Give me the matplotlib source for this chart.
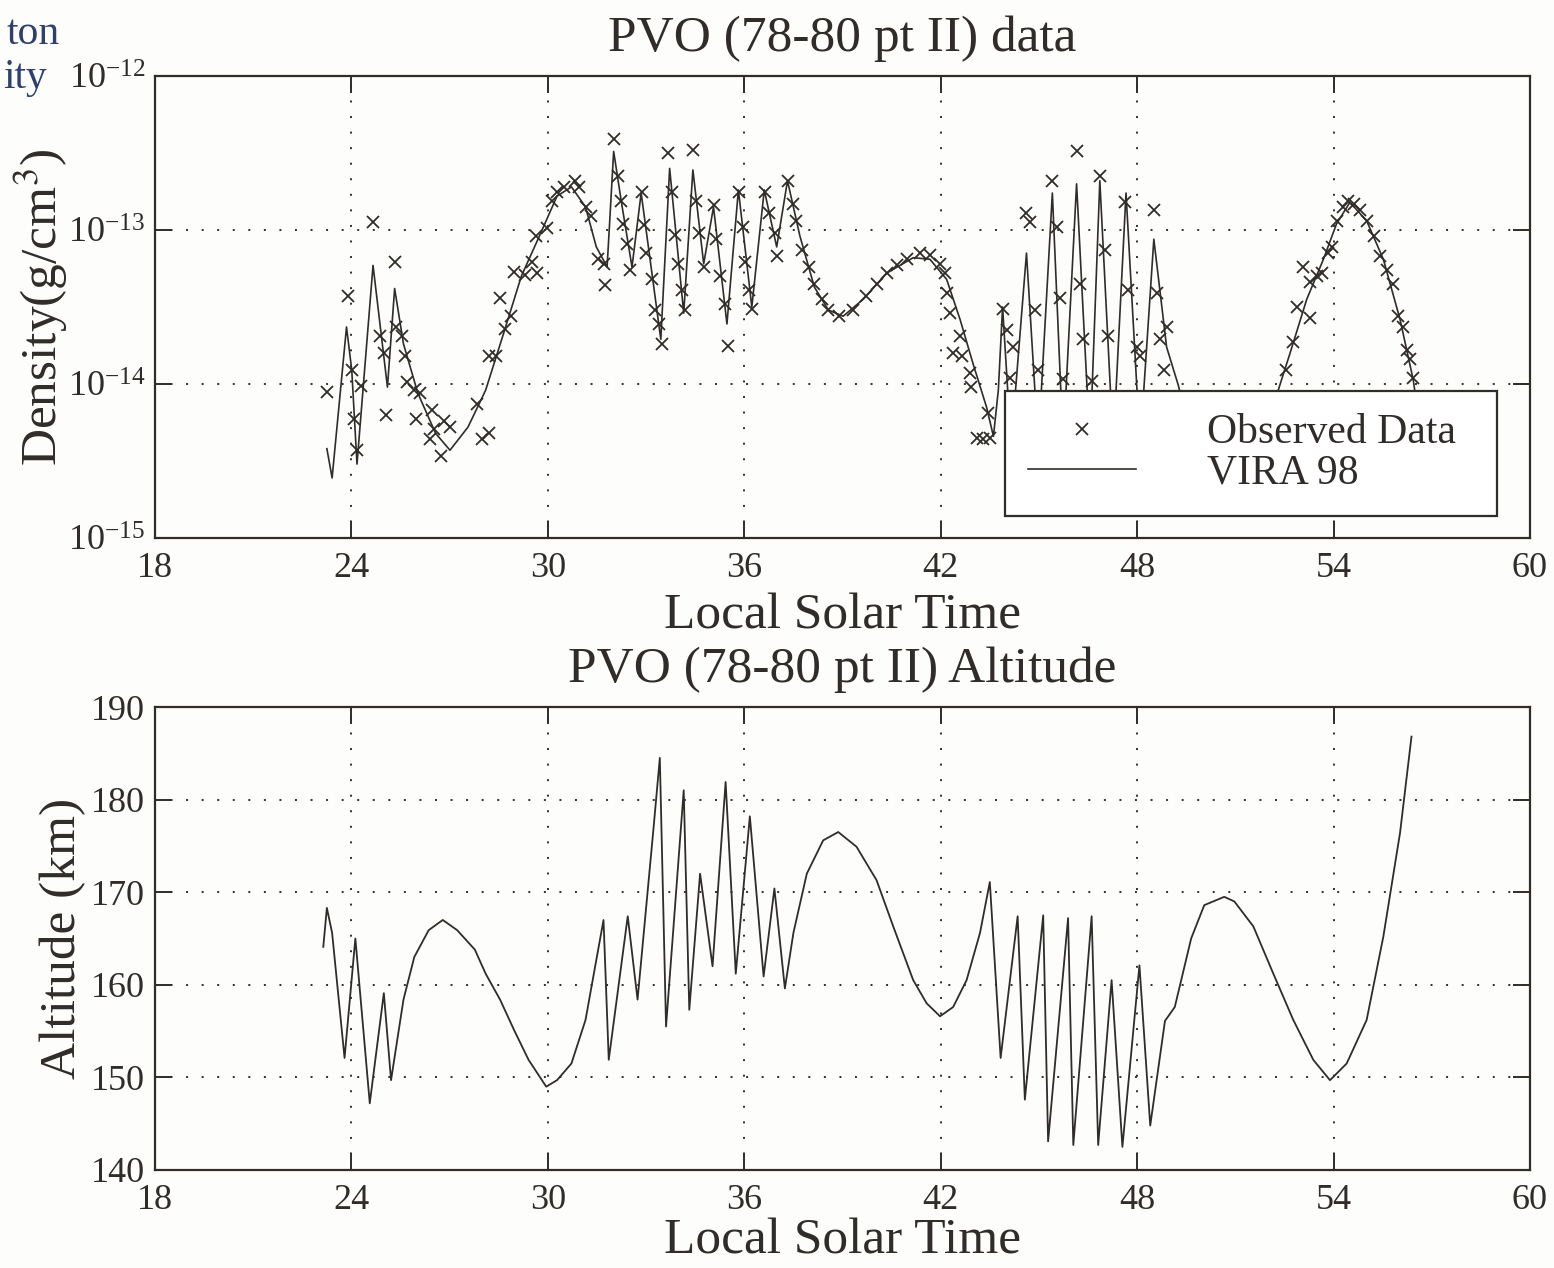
import numpy as np
import matplotlib
matplotlib.use("Agg")
from matplotlib import pyplot as plt
from matplotlib.ticker import FixedLocator, LogFormatterMathtext, NullLocator

# VIRA 98 model density along the orbit track (log10 of g/cm^3)
vira_lst = [23.25, 23.41, 23.85, 24.01, 24.17, 24.66, 25.10, 25.32, 25.59, 26.03,
            26.57, 27.01, 27.56, 28.10, 28.65, 29.19, 29.74, 30.28, 30.72, 31.15,
            31.48, 31.81, 32.01, 32.24, 32.57, 32.85, 33.45, 33.72, 34.15, 34.43,
            34.76, 35.06, 35.47, 35.82, 36.23, 36.61, 36.99, 37.32, 37.70, 38.14,
            38.57, 39.02, 39.63, 40.35, 41.16, 41.67, 42.18, 42.59, 42.99, 43.40,
            43.61, 43.76, 43.89, 44.15, 44.62, 44.98, 45.41, 45.74, 46.15, 46.56,
            46.86, 47.27, 47.66, 48.09, 48.51, 48.90, 49.26, 49.80, 51.80, 52.31,
            52.67, 53.18, 53.69, 54.09, 54.50, 55.01, 55.52, 56.03, 56.43, 56.80]
vira_log = [-14.42, -14.61, -13.63, -13.91, -14.52, -13.23, -14.02, -13.38, -13.74, -14.06,
            -14.32, -14.43, -14.28, -14.04, -13.67, -13.30, -13.04, -12.78, -12.72, -12.85,
            -13.11, -13.24, -12.49, -12.81, -13.24, -12.76, -13.71, -12.60, -13.54, -12.61,
            -13.22, -12.85, -13.61, -12.74, -13.50, -12.74, -13.11, -12.68, -13.04, -13.37,
            -13.52, -13.56, -13.45, -13.28, -13.18, -13.19, -13.32, -13.58, -13.87, -14.15,
            -14.34, -14.04, -13.50, -14.40, -13.15, -14.40, -12.76, -14.40, -12.70, -14.40,
            -12.68, -14.40, -12.76, -14.40, -13.06, -13.76, -14.01, -14.50, -14.50, -14.04,
            -13.80, -13.45, -13.19, -12.96, -12.82, -12.94, -13.19, -13.58, -13.97, -14.50]

# observed PVO densities (log10 of g/cm^3)
obs_lst = [23.25, 23.90, 24.01, 24.07, 24.17, 24.28, 24.66, 24.88, 24.99, 25.05,
           25.32, 25.37, 25.54, 25.65, 25.70, 25.92, 26.08, 25.98, 26.47, 26.52,
           26.41, 26.84, 27.01, 26.74, 27.83, 27.99, 28.21, 28.21, 28.43, 28.54,
           28.70, 28.87, 28.97, 29.30, 29.68, 29.52, 29.63, 29.96, 30.12, 30.28,
           30.50, 30.83, 30.94, 31.15, 31.31, 31.53, 31.70, 31.75, 32.01, 32.14,
           32.22, 32.30, 32.41, 32.52, 32.88, 32.95, 33.01, 33.17, 33.28, 33.39,
           33.50, 33.68, 33.79, 33.88, 33.97, 34.10, 34.19, 34.43, 34.52, 34.63,
           34.76, 35.06, 35.14, 35.25, 35.42, 35.50, 35.83, 35.96, 36.01, 36.15,
           36.23, 36.63, 36.77, 36.94, 36.99, 37.35, 37.48, 37.59, 37.75, 37.97,
           38.14, 38.36, 38.57, 38.90, 39.32, 39.73, 40.04, 40.35, 40.65, 40.96,
           41.37, 41.67, 41.98, 42.13, 42.18, 42.28, 42.59, 42.38, 42.64, 42.89,
           42.94, 43.10, 43.30, 43.50, 43.45, 43.89, 44.01, 44.21, 44.11, 44.62,
           44.74, 44.88, 44.98, 45.39, 45.55, 45.63, 45.75, 46.15, 46.25, 46.35,
           46.61, 46.86, 47.02, 47.12, 47.63, 47.73, 47.99, 48.09, 48.50, 48.61,
           48.91, 48.71, 48.81, 52.56, 52.77, 52.87, 53.08, 53.28, 53.28, 53.49,
           53.64, 53.84, 53.95, 54.10, 54.30, 54.45, 54.61, 54.81, 55.01, 55.22,
           55.42, 55.62, 55.83, 55.98, 56.13, 56.23, 56.33, 56.43]
obs_log = [-14.05, -13.43, -13.91, -14.23, -14.43, -14.01, -12.95, -13.69, -13.80, -14.20,
           -13.21, -13.63, -13.69, -13.82, -13.99, -14.04, -14.06, -14.23, -14.17, -14.29,
           -14.36, -14.24, -14.28, -14.47, -14.13, -14.36, -14.32, -13.82, -13.82, -13.44,
           -13.64, -13.56, -13.27, -13.29, -13.28, -13.21, -13.04, -12.99, -12.81, -12.75,
           -12.72, -12.68, -12.72, -12.85, -12.91, -13.19, -13.22, -13.36, -12.41, -12.65,
           -12.81, -12.96, -13.09, -13.26, -12.75, -12.97, -13.15, -13.32, -13.52, -13.61,
           -13.74, -12.50, -12.75, -13.03, -13.22, -13.39, -13.52, -12.48, -12.81, -13.02,
           -13.24, -12.84, -13.06, -13.30, -13.48, -13.75, -12.75, -12.98, -13.21, -13.39,
           -13.51, -12.75, -12.89, -13.02, -13.17, -12.68, -12.83, -12.94, -13.13, -13.24,
           -13.35, -13.45, -13.52, -13.56, -13.52, -13.43, -13.35, -13.28, -13.23, -13.19,
           -13.15, -13.16, -13.22, -13.28, -13.41, -13.54, -13.69, -13.80, -13.82, -13.93,
           -14.02, -14.35, -14.36, -14.35, -14.19, -13.51, -13.65, -13.76, -13.96, -12.89,
           -12.95, -13.52, -13.91, -12.68, -12.98, -13.44, -13.97, -12.49, -13.35, -13.71,
           -13.98, -12.65, -13.13, -13.69, -12.82, -13.39, -13.76, -13.82, -12.87, -13.41,
           -13.63, -13.71, -13.91, -13.91, -13.73, -13.50, -13.24, -13.34, -13.57, -13.30,
           -13.28, -13.15, -13.11, -12.94, -12.85, -12.81, -12.83, -12.87, -12.94, -13.04,
           -13.17, -13.26, -13.35, -13.56, -13.63, -13.78, -13.84, -13.96]

# spacecraft altitude (km)
alt_lst = [23.14, 23.25, 23.41, 23.79, 24.12, 24.56, 24.99, 25.21, 25.59, 25.92,
           26.36, 26.79, 27.23, 27.77, 28.10, 28.54, 28.97, 29.41, 29.95, 30.28,
           30.72, 31.15, 31.70, 31.86, 32.44, 32.74, 33.23, 33.42, 33.61, 34.15,
           34.32, 34.65, 35.03, 35.43, 35.74, 36.17, 36.59, 36.92, 37.24, 37.50,
           37.91, 38.41, 38.87, 39.43, 40.04, 40.55, 41.16, 41.57, 41.98, 42.38,
           42.79, 43.20, 43.50, 43.83, 44.35, 44.57, 45.13, 45.28, 45.89, 46.05,
           46.61, 46.81, 47.22, 47.55, 48.07, 48.40, 48.85, 49.15, 49.65, 50.05,
           50.66, 50.97, 51.55, 52.16, 52.77, 53.38, 53.89, 54.40, 55.01, 55.52,
           56.03, 56.38]
alt_km = [164.1, 168.3, 165.6, 152.1, 165.0, 147.2, 159.1, 149.7, 158.4, 163.0,
          165.9, 167.0, 165.9, 163.8, 161.2, 158.4, 155.1, 151.9, 149.0, 149.7,
          151.5, 156.2, 167.0, 151.9, 167.4, 158.4, 177.0, 184.5, 155.5, 181.0,
          157.3, 172.0, 162.0, 181.9, 161.2, 178.2, 160.9, 170.4, 159.6, 165.6,
          172.0, 175.6, 176.5, 174.9, 171.3, 166.3, 160.5, 158.0, 156.6, 157.6,
          160.5, 165.6, 171.1, 152.1, 167.4, 147.6, 167.5, 143.1, 167.2, 142.7,
          167.4, 142.7, 160.5, 142.5, 162.1, 144.8, 156.1, 157.6, 165.0, 168.6,
          169.5, 169.0, 166.3, 161.2, 156.2, 151.9, 149.7, 151.5, 156.2, 165.2,
          176.4, 186.8]

xticks = [18, 24, 30, 36, 42, 48, 54, 60]

plt.rcParams['font.family'] = ['Liberation Serif', 'DejaVu Serif']
plt.rcParams['mathtext.fontset'] = 'stix'

ink = '#2f2c29'
grid_style = dict(color=ink, linestyle=(0, (1, 7)), linewidth=1.4)

fig = plt.figure(figsize=(15.54, 12.68), dpi=100, facecolor='#fdfdfb')
W, H = 1554.0, 1268.0
ax1 = fig.add_axes([155 / W, 1 - 538 / H, 1375 / W, 462 / H])
ax2 = fig.add_axes([155 / W, 1 - 1170 / H, 1375 / W, 463 / H])

# density panel
ax1.set_yscale('log')
ax1.plot(vira_lst, np.power(10.0, vira_log), color=ink, lw=1.2, label='VIRA 98', zorder=3)
ax1.plot(obs_lst, np.power(10.0, obs_log), linestyle='none', marker='x', ms=8, mew=1.3,
         color=ink, label='Observed Data', zorder=4)
ax1.set_ylim(1e-15, 1e-12)
ax1.yaxis.set_major_locator(FixedLocator([1e-15, 1e-14, 1e-13, 1e-12]))
ax1.yaxis.set_major_formatter(LogFormatterMathtext())
ax1.yaxis.set_minor_locator(NullLocator())
ax1.set_title('PVO (78-80 pt II) data', fontsize=37, color=ink, pad=18)
ax1.set_ylabel('Density(g/cm$^3$)', fontsize=37, color=ink)
ax1.yaxis.set_label_coords(-0.062, 0.5)

handles, labels = ax1.get_legend_handles_labels()
leg = ax1.legend(handles[::-1], labels[::-1], loc='lower left',
                 bbox_to_anchor=(0.618, 0.048, 0.358, 0.27), mode='expand',
                 fontsize=30, handlelength=2.6, handletextpad=1.7, borderpad=0.55,
                 labelspacing=0.05, fancybox=False, framealpha=1, borderaxespad=0)
leg.get_frame().set_edgecolor(ink)
leg.get_frame().set_linewidth(1.6)
leg.set_zorder(10)
for t in leg.get_texts():
    t.set_color(ink)

# altitude panel
ax2.plot(alt_lst, alt_km, color=ink, lw=1.3, zorder=3)
ax2.set_ylim(140, 190)
ax2.set_yticks([140, 150, 160, 170, 180, 190])
ax2.set_title('PVO (78-80 pt II) Altitude', fontsize=37, color=ink, pad=18)
ax2.set_ylabel('Altitude (km)', fontsize=37, color=ink)
ax2.yaxis.set_label_coords(-0.05, 0.5)

for ax in (ax1, ax2):
    ax.set_facecolor('#fdfdfb')
    ax.set_xlim(18, 60)
    ax.set_xticks(xticks)
    ax.grid(True, which='major', **grid_style)
    ax.set_axisbelow(True)
    ax.tick_params(which='both', direction='in', length=12, width=1.4, top=True, right=True,
                   labelsize=26, colors=ink, pad=7)
    ax.tick_params(axis='x', pad=10)
    for s in ax.spines.values():
        s.set_linewidth(1.6)
        s.set_color(ink)

ax1.set_xlabel('Local Solar Time', fontsize=37, color=ink, labelpad=6)
ax2.set_xlabel('Local Solar Time', fontsize=37, color=ink, labelpad=1)

# scanned logo fragment at the page corner
fig.text(60 / W, 1 - 44 / H, 'ton', ha='right', va='baseline', fontsize=30, color='#2e3f70')
fig.text(47 / W, 1 - 88 / H, 'ity', ha='right', va='baseline', fontsize=30, color='#2e3f70')

fig.savefig('out.png', dpi=100, facecolor=fig.get_facecolor())
